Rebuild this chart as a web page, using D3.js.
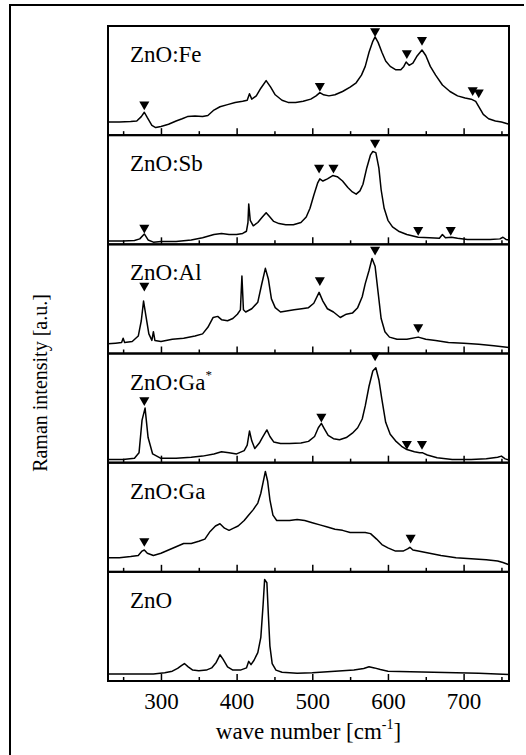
<!DOCTYPE html>
<html>
<head>
<meta charset="utf-8">
<script src="https://cdn.jsdelivr.net/npm/d3@7"></script>
<style>
  html, body { margin: 0; padding: 0; background: #fff; }
  svg { display: block; }
  text { font-family: "Liberation Serif", "DejaVu Serif", serif; }
</style>
</head>
<body>
<script>
// wave number axis
const waveDomain = [230, 760];
const majorTicks = [300, 400, 500, 600, 700];
const minorTicks = [250, 350, 450, 550, 650, 750];

// panel names, top to bottom
const sampleNames = ['ZnO:Fe', 'ZnO:Sb', 'ZnO:Al', 'ZnO:Ga*', 'ZnO:Ga', 'ZnO'];

// spectra: [wave number, relative intensity]
const feSpectrum = [[230,0.12],[245,0.12],[260,0.125],[268,0.13],[274,0.17],[278,0.21],[282,0.16],[288,0.09],[293,0.07],[300,0.08],[310,0.1],[320,0.13],[328,0.15],[335,0.17],[345,0.175],[355,0.17],[362,0.18],[370,0.23],[378,0.26],[388,0.28],[398,0.3],[408,0.31],[414,0.32],[417,0.38],[420,0.33],[426,0.36],[432,0.43],[439,0.5],[445,0.44],[451,0.37],[460,0.32],[468,0.3],[478,0.3],[488,0.31],[498,0.33],[505,0.36],[510,0.39],[515,0.37],[522,0.36],[530,0.37],[540,0.4],[550,0.44],[558,0.48],[565,0.55],[570,0.63],[575,0.76],[580,0.86],[583,0.9],[587,0.85],[592,0.76],[597,0.68],[603,0.63],[610,0.6],[617,0.6],[621,0.63],[624,0.67],[628,0.64],[633,0.66],[638,0.72],[645,0.78],[650,0.73],[656,0.63],[663,0.55],[672,0.46],[682,0.4],[692,0.36],[702,0.34],[710,0.33],[716,0.31],[721,0.25],[726,0.19],[733,0.15],[742,0.13],[750,0.12],[760,0.1]];
const sbSpectrum = [[230,0.03],[250,0.03],[265,0.035],[272,0.05],[278,0.095],[283,0.04],[290,0.02],[300,0.025],[320,0.025],[340,0.04],[355,0.06],[370,0.09],[380,0.1],[390,0.09],[400,0.09],[408,0.1],[413,0.12],[415,0.2],[416,0.37],[418,0.22],[422,0.17],[428,0.2],[434,0.25],[439,0.29],[444,0.25],[449,0.21],[456,0.19],[465,0.18],[475,0.18],[485,0.2],[492,0.25],[497,0.33],[502,0.45],[507,0.56],[510,0.6],[514,0.58],[520,0.6],[527,0.63],[533,0.62],[540,0.58],[547,0.52],[553,0.48],[558,0.46],[563,0.49],[567,0.55],[572,0.7],[577,0.82],[580,0.85],[584,0.84],[588,0.7],[591,0.5],[595,0.33],[600,0.22],[606,0.16],[614,0.12],[625,0.09],[640,0.065],[655,0.06],[668,0.055],[672,0.09],[676,0.06],[684,0.065],[692,0.055],[705,0.045],[720,0.045],[735,0.045],[748,0.05],[752,0.065],[756,0.045],[760,0.04]];
const alSpectrum = [[230,0.09],[240,0.095],[248,0.1],[250,0.14],[252,0.1],[262,0.11],[270,0.16],[274,0.3],[277,0.48],[280,0.35],[284,0.18],[288,0.12],[290,0.2],[292,0.12],[300,0.11],[315,0.13],[330,0.14],[345,0.16],[355,0.18],[362,0.24],[369,0.33],[375,0.34],[380,0.31],[388,0.3],[395,0.32],[401,0.36],[405,0.4],[407,0.71],[409,0.4],[412,0.38],[420,0.41],[428,0.47],[433,0.63],[438,0.78],[442,0.68],[446,0.5],[451,0.42],[458,0.38],[466,0.39],[476,0.4],[486,0.41],[495,0.42],[502,0.46],[509,0.56],[514,0.48],[520,0.41],[528,0.38],[537,0.33],[545,0.36],[553,0.37],[560,0.42],[566,0.52],[570,0.64],[575,0.76],[579,0.87],[583,0.8],[587,0.56],[591,0.32],[596,0.2],[602,0.15],[612,0.13],[625,0.13],[640,0.15],[650,0.13],[663,0.12],[680,0.1],[700,0.095],[720,0.085],[740,0.07],[760,0.055]];
const gaStarSpectrum = [[230,0.03],[250,0.03],[265,0.04],[271,0.09],[275,0.39],[279,0.5],[283,0.23],[289,0.08],[300,0.04],[320,0.04],[340,0.05],[355,0.06],[370,0.08],[380,0.1],[390,0.09],[400,0.08],[410,0.11],[414,0.16],[417,0.29],[420,0.2],[424,0.13],[430,0.18],[434,0.23],[440,0.3],[444,0.24],[449,0.19],[458,0.175],[470,0.175],[485,0.18],[495,0.195],[503,0.24],[508,0.32],[512,0.36],[516,0.31],[521,0.25],[528,0.22],[536,0.21],[545,0.23],[553,0.27],[560,0.32],[566,0.4],[570,0.52],[575,0.7],[580,0.84],[584,0.87],[588,0.76],[592,0.58],[597,0.37],[603,0.26],[610,0.2],[618,0.15],[625,0.12],[635,0.1],[642,0.09],[646,0.09],[652,0.07],[665,0.045],[685,0.03],[710,0.03],[730,0.035],[745,0.05],[750,0.06],[755,0.035],[760,0.025]];
const gaSpectrum = [[230,0.13],[245,0.13],[260,0.14],[270,0.15],[275,0.19],[278,0.2],[282,0.17],[290,0.15],[300,0.17],[310,0.2],[320,0.23],[330,0.26],[340,0.26],[350,0.28],[358,0.3],[365,0.37],[372,0.42],[378,0.44],[384,0.4],[390,0.38],[396,0.4],[402,0.42],[410,0.47],[416,0.52],[422,0.57],[428,0.63],[432,0.72],[435,0.82],[438,0.92],[441,0.83],[444,0.66],[448,0.52],[453,0.47],[460,0.47],[470,0.47],[480,0.48],[490,0.47],[500,0.45],[510,0.43],[520,0.41],[530,0.39],[540,0.38],[550,0.36],[560,0.36],[570,0.36],[577,0.35],[585,0.3],[592,0.25],[600,0.22],[610,0.19],[620,0.19],[626,0.21],[629,0.225],[633,0.2],[640,0.19],[655,0.17],[670,0.15],[690,0.13],[710,0.12],[730,0.11],[745,0.1],[752,0.085],[760,0.065]];
const znoSpectrum = [[230,0.065],[260,0.065],[290,0.065],[305,0.075],[315,0.09],[322,0.115],[327,0.14],[331,0.16],[336,0.13],[342,0.1],[350,0.095],[360,0.1],[367,0.12],[373,0.17],[378,0.24],[382,0.2],[388,0.13],[395,0.1],[405,0.1],[413,0.12],[416,0.18],[419,0.15],[423,0.19],[428,0.26],[432,0.4],[435,0.7],[437,0.93],[440,0.9],[442,0.6],[444,0.32],[447,0.16],[452,0.1],[460,0.08],[480,0.07],[500,0.075],[520,0.085],[540,0.095],[555,0.1],[568,0.115],[575,0.13],[582,0.12],[590,0.105],[600,0.09],[630,0.085],[660,0.08],[690,0.075],[720,0.07],[760,0.06]];

// peak markers (down triangles): [wave number, intensity at the tip]
const feMarks = [[278,0.25],[510,0.42],[583,0.92],[625,0.72],[645,0.84],[712,0.38],[720,0.36]];
const sbMarks = [[278,0.12],[509,0.67],[528,0.67],[583,0.9],[640,0.1],[683,0.1]];
const alMarks = [[278,0.59],[510,0.64],[583,0.92],[640,0.21]];
const gaStarMarks = [[278,0.54],[512,0.39],[583,0.95],[625,0.14],[645,0.14]];
const gaMarks = [[278,0.25],[630,0.28]];
const znoMarks = [];

const spectra = [feSpectrum, sbSpectrum, alSpectrum, gaStarSpectrum, gaSpectrum, znoSpectrum];
const marks = [feMarks, sbMarks, alMarks, gaStarMarks, gaMarks, znoMarks];

const width = 526;
const height = 755;
const plot = { left: 108, right: 509, top: 26, bottom: 681 };
const panelH = (plot.bottom - plot.top) / sampleNames.length;
const font = 'Liberation Serif';

const svg = d3.select('body')
	.append('svg')
	.attr('width', width)
	.attr('height', height);

svg.append('rect').attr('width', width).attr('height', height).attr('fill', '#fff');

// outer frame (only top and left edges are visible)
svg.append('path')
	.attr('d', `M524,5H10V${height}`)
	.attr('fill', 'none')
	.attr('stroke', '#000')
	.attr('stroke-width', 2);

const xScale = d3.scaleLinear().domain(waveDomain).range([plot.left, plot.right]);

sampleNames.forEach((name, i) => {
	const top = plot.top + i * panelH;
	const bottom = top + panelH;
	const yScale = d3.scaleLinear().domain([0, 1]).range([bottom, top]);
	const g = svg.append('g').attr('class', `panel-${i}`);

	const line = d3.line()
		.x(d => xScale(d[0]))
		.y(d => yScale(d[1]));

	g.append('path')
		.datum(spectra[i])
		.attr('fill', 'none')
		.attr('stroke', '#000')
		.attr('stroke-width', 1.5)
		.attr('stroke-linejoin', 'round')
		.attr('d', line);

	// inward ticks on each panel's bottom edge
	g.append('g')
		.attr('transform', `translate(0,${bottom})`)
		.call(d3.axisTop(xScale).tickValues(majorTicks).tickSize(7).tickFormat(''))
		.call(a => a.select('.domain').remove())
		.call(a => a.selectAll('line').attr('stroke-width', 1.5));
	g.append('g')
		.attr('transform', `translate(0,${bottom})`)
		.call(d3.axisTop(xScale).tickValues(minorTicks).tickSize(4).tickFormat(''))
		.call(a => a.select('.domain').remove())
		.call(a => a.selectAll('line').attr('stroke-width', 1.5));

	g.selectAll('.mark')
		.data(marks[i])
		.enter()
		.append('path')
		.attr('class', 'mark')
		.attr('d', d3.symbol(d3.symbolTriangle, 44))
		.attr('transform', d => `translate(${xScale(d[0])},${yScale(d[1]) - 3.5}) rotate(180)`)
		.attr('fill', '#000');

	const label = g.append('text')
		.attr('x', 130)
		.attr('y', top + 36)
		.attr('font-family', font)
		.attr('font-size', 23)
		.attr('fill', '#000');
	if (name.endsWith('*')) {
		label.append('tspan').text(name.slice(0, -1));
		label.append('tspan').attr('font-size', 13).attr('dy', -11).text('*');
	} else {
		label.text(name);
	}

	g.append('rect')
		.attr('x', plot.left)
		.attr('y', top)
		.attr('width', plot.right - plot.left)
		.attr('height', panelH)
		.attr('fill', 'none')
		.attr('stroke', '#000')
		.attr('stroke-width', 2);
});

// tick labels under the bottom panel
svg.append('g')
	.attr('transform', `translate(0,${plot.bottom})`)
	.call(d3.axisBottom(xScale).tickValues(majorTicks).tickSize(0).tickPadding(0).tickFormat(d3.format('d')))
	.call(a => a.select('.domain').remove())
	.call(a => a.attr('font-family', font).attr('font-size', 23))
	.call(a => a.selectAll('text')
		.attr('dy', null)
		.attr('y', 28)
		.attr('fill', '#000'));

const xLabel = svg.append('text')
	.attr('x', (plot.left + plot.right) / 2)
	.attr('y', 739)
	.attr('text-anchor', 'middle')
	.attr('font-family', font)
	.attr('font-size', 23);
xLabel.append('tspan').text('wave number [cm');
xLabel.append('tspan').attr('font-size', 14).attr('dy', -10).text('-1');
xLabel.append('tspan').attr('dy', 10).text(']');

svg.append('text')
	.attr('transform', 'translate(47,383) rotate(-90)')
	.attr('text-anchor', 'middle')
	.attr('font-family', font)
	.attr('font-size', 20)
	.text('Raman intensity [a.u.]');
</script>
</body>
</html>
